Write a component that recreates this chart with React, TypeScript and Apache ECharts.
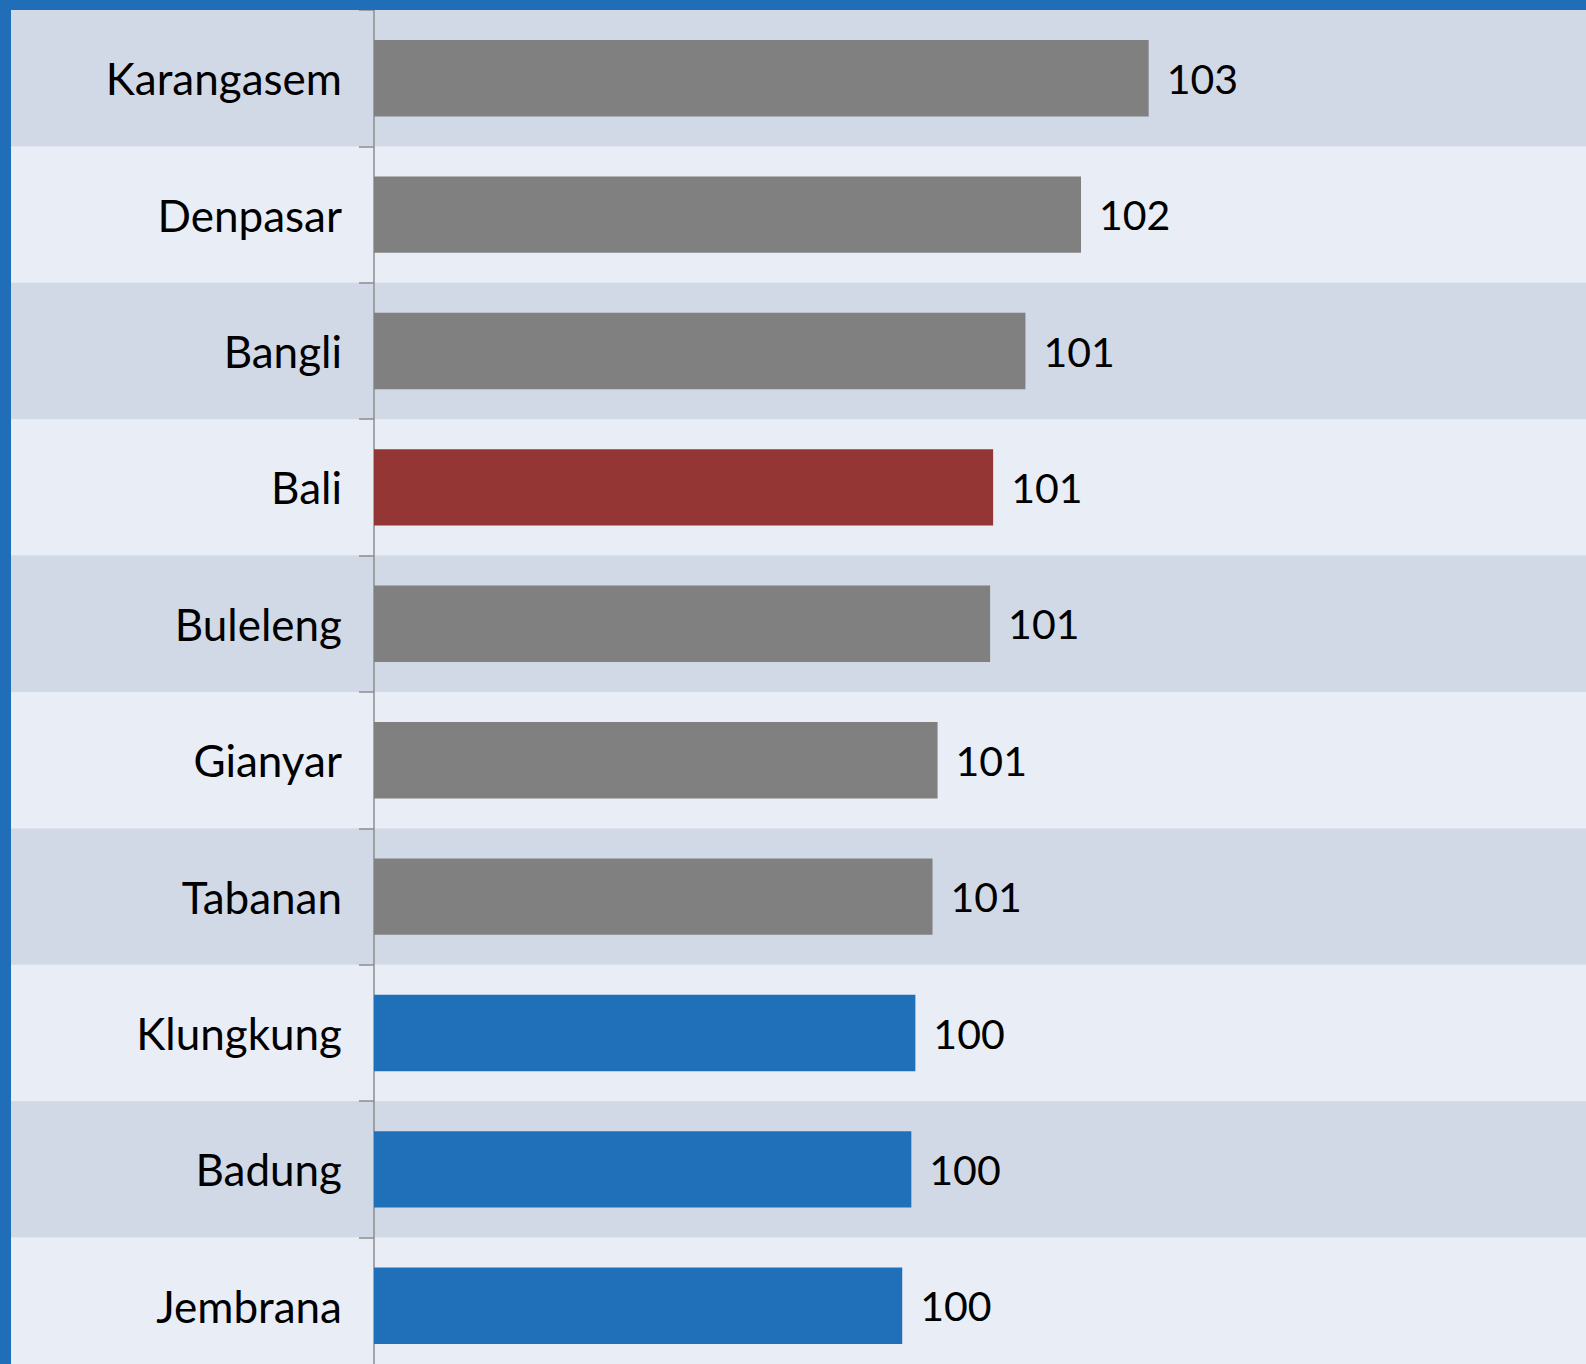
import React, { useEffect, useRef } from "react";
import * as echarts from "echarts";

const categories = ["Karangasem", "Denpasar", "Bangli", "Bali", "Buleleng", "Gianyar", "Tabanan", "Klungkung", "Badung", "Jembrana"];
const values = [102.67, 102.0, 101.45, 101.13, 101.1, 100.58, 100.53, 100.36, 100.32, 100.23];
const barColors = ["#808080", "#808080", "#808080", "#943634", "#808080", "#808080", "#808080", "#1F70B8", "#1F70B8", "#1F70B8"];
const bandColors = ["#D1D9E7", "#E9EDF5"];

export default function App() {
  const ref = useRef<HTMLDivElement>(null);
  useEffect(() => {
    if (!ref.current) return;
    const chart = echarts.init(ref.current, null, { renderer: "svg" });
    const font = "Lato";
    chart.setOption({
      animation: false,
      backgroundColor: "#DDE3EE",
      grid: [
        { left: 0, right: 0, top: 0, bottom: 0 },
        { left: 363, right: 0, top: 0, bottom: 0 },
      ],
      xAxis: [
        { gridIndex: 0, type: "value", min: 0, max: 1, show: false },
        { gridIndex: 1, type: "value", min: 95, max: 107, show: false },
      ],
      yAxis: [
        {
          gridIndex: 0,
          type: "category",
          inverse: true,
          data: categories,
          axisLine: { show: false },
          axisTick: { show: false },
          axisLabel: { show: false },
          splitLine: { show: false },
          splitArea: { show: true, areaStyle: { color: bandColors } },
        },
        {
          gridIndex: 1,
          type: "category",
          inverse: true,
          data: categories,
          axisLine: { show: true, lineStyle: { color: "#8C8C8C", width: 1.5 } },
          axisTick: { show: true, length: 15, lineStyle: { color: "#8C8C8C", width: 1.5 } },
          axisLabel: { fontFamily: font, fontSize: 44, color: "#000", margin: 32 },
          splitArea: { show: false },
        },
      ],
      series: [
        {
          type: "bar",
          xAxisIndex: 1,
          yAxisIndex: 1,
          barCategoryGap: "44%",
          data: values.map((v, i) => ({ value: v, itemStyle: { color: barColors[i] } })),
          label: {
            show: true,
            position: "right",
            distance: 18,
            fontFamily: font,
            fontSize: 41,
            color: "#000",
            formatter: (p: any) => Math.round(p.value).toString(),
          },
        },
      ],
    });
    return () => chart.dispose();
  }, []);
  return (
    <div style={{ position: "absolute", left: 0, top: 0, width: 1586, height: 1364, background: "#1F6EB7", overflow: "hidden" }}>
      <div ref={ref} style={{ position: "absolute", left: 11, top: 10, width: 1575, height: 1364, background: "#DDE3EE" }} />
    </div>
  );
}
